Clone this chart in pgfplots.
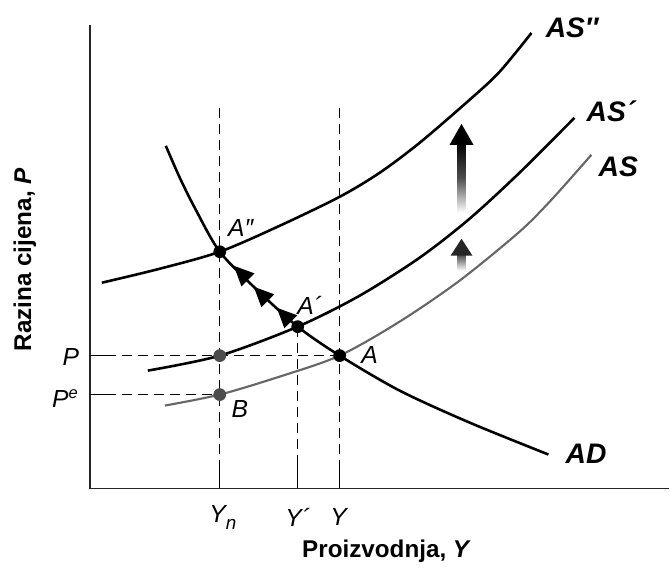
\documentclass[border=0pt]{standalone}
\usepackage{fontspec}
\setmainfont{Liberation Sans}
\usepackage{pgfplots}
\pgfplotsset{compat=1.18}
\usetikzlibrary{arrows.meta}
\begin{document}
\begin{tikzpicture}
\begin{axis}[
  scale only axis, width=10cm, height=8.4478cm,
  xmin=0, xmax=670, ymin=0, ymax=566, y dir=reverse,
  hide axis, clip=false]
\path (axis cs:0,0) rectangle (axis cs:670,566);
% axes
\addplot[line width=0.6pt, black!85] coordinates {(90,25) (90,489) (670,489)};
% dashed guides
\addplot[dash pattern=on 4.2pt off 2.6pt, line width=0.6pt] coordinates {(220,108) (220,489)};
\addplot[dash pattern=on 4.2pt off 2.6pt, line width=0.6pt] coordinates {(340,108) (340,489)};
\addplot[dash pattern=on 4.2pt off 2.6pt, line width=0.6pt] coordinates {(298,327) (298,489)};
\addplot[dash pattern=on 4.2pt off 2.6pt, line width=0.6pt] coordinates {(90,356) (340,356)};
\addplot[dash pattern=on 4.2pt off 2.6pt, line width=0.6pt] coordinates {(90,395) (220,395)};
% solid tick ends
\addplot[line width=0.6pt] coordinates {(220,460) (220,489)};
\addplot[line width=0.6pt] coordinates {(340,460) (340,489)};
\addplot[line width=0.6pt] coordinates {(298,455) (298,489)};
\addplot[line width=0.6pt] coordinates {(90,356) (106,356)};
\addplot[line width=0.6pt] coordinates {(90,395) (112,395)};
% AS
\addplot[smooth, line width=0.9pt, black!60] coordinates {(165,406) (220,395) (280,377) (340,356) (400,322) (460,281) (520,232) (552,200) (592,155)};
% AS'
\addplot[smooth, line width=1.1pt] coordinates {(148,371) (220,356) (298,327) (360,296) (420,258) (470,219) (520,173) (575,118)};
% AS''
\addplot[smooth, line width=1.1pt] coordinates {(102,283) (160,269) (220,252) (280,226) (340,197) (380,173) (420,143) (470,100) (500,72) (532,33)};
% AD
\addplot[smooth, line width=1.1pt] coordinates {(166,146) (180,178) (196,210) (220,252) (256,289) (298,327) (340,356) (400,391) (470,423) (549,455)};
% arrowheads along AD
\draw[-{Triangle[length=8.5pt,width=7.5pt]}, line width=1.1pt] (axis cs:242,274) -- (axis cs:234,266);
\draw[-{Triangle[length=8.5pt,width=7.5pt]}, line width=1.1pt] (axis cs:262,295) -- (axis cs:254,287);
\draw[-{Triangle[length=8.5pt,width=7.5pt]}, line width=1.1pt] (axis cs:285,316) -- (axis cs:277,308);
% vertical shift arrows
\shade[top color=black, bottom color=white, middle color=black!70] (axis cs:458,143) rectangle (axis cs:466,213);
\fill (axis cs:462,124) -- (axis cs:450,145) -- (axis cs:474,145) -- cycle;
\shade[top color=black!75, bottom color=white] (axis cs:458,254) rectangle (axis cs:466,271);
\fill[black!85] (axis cs:462,239) -- (axis cs:451,256) -- (axis cs:473,256) -- cycle;
% points
\addplot[only marks, mark=*, mark size=2.5pt, black] coordinates {(340,356) (298,327) (220,252)};
\addplot[only marks, mark=*, mark size=2.5pt, draw=black!70, fill=black!70] coordinates {(220,356) (220,395)};
% curve labels
\node[font=\fontsize{12}{14}\selectfont\bfseries\itshape, anchor=west] at (axis cs:538,28) {AS″};
\node[font=\fontsize{12}{14}\selectfont\bfseries\itshape, anchor=west] at (axis cs:579,111) {AS´};
\node[font=\fontsize{12}{14}\selectfont\bfseries\itshape, anchor=west] at (axis cs:591,167) {AS};
\node[font=\fontsize{12}{14}\selectfont\bfseries\itshape, anchor=west] at (axis cs:558,454) {AD};
% point labels
\node[font=\fontsize{10.5}{12}\selectfont\itshape] at (axis cs:241,228) {A″};
\node[font=\fontsize{10.5}{12}\selectfont\itshape] at (axis cs:310,306) {A´};
\node[font=\fontsize{10.5}{12}\selectfont\itshape] at (axis cs:370,355) {A};
\node[font=\fontsize{10.5}{12}\selectfont\itshape] at (axis cs:240,409) {B};
% axis tick labels
\node[font=\fontsize{10.5}{12}\selectfont\itshape] at (axis cs:71,357) {P};
\node[font=\fontsize{10.5}{12}\selectfont\itshape] at (axis cs:65,399) {P\raisebox{0.7ex}{\fontsize{7}{8}\selectfont e}};
\node[font=\fontsize{10.5}{12}\selectfont\itshape] at (axis cs:223,518) {Y\raisebox{-0.55ex}{\fontsize{8}{9}\selectfont n}};
\node[font=\fontsize{10.5}{12}\selectfont\itshape] at (axis cs:298,518) {Y´};
\node[font=\fontsize{10.5}{12}\selectfont\itshape] at (axis cs:339,518) {Y};
% axis titles
\node[font=\fontsize{10.3}{12}\selectfont\bfseries] at (axis cs:387,552) {Proizvodnja, \textit{Y}};
\node[font=\fontsize{10.3}{12}\selectfont\bfseries, rotate=90] at (axis cs:25,260) {Razina cijena, \textit{P}};
\end{axis}
\end{tikzpicture}
\end{document}
